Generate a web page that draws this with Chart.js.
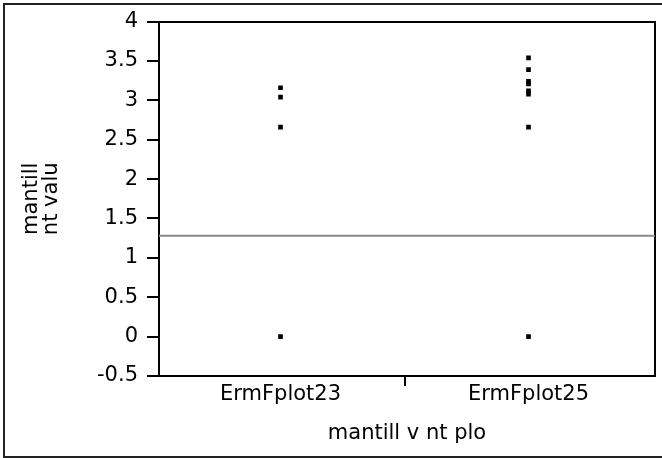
<!DOCTYPE html>
<html>
<head>
<meta charset="utf-8">
<script src="https://cdn.jsdelivr.net/npm/chart.js@4"></script>
<style>
  html, body { margin: 0; padding: 0; background: #fff; overflow: hidden; }
  #frame { position: absolute; left: 3px; top: 3px; width: 664px; height: 455px; border: 2px solid #222; box-sizing: border-box; }
  #wrap { position: absolute; left: 0; top: 0; width: 662px; height: 458px; }
</style>
</head>
<body>
<div id="frame"></div>
<div id="wrap"><canvas id="chart"></canvas></div>
<script>
// data
const categories = ['ErmFplot23', 'ErmFplot25'];
const plot23Values = [0, 2.66, 3.04, 3.16];
const plot25Values = [0, 2.66, 3.08, 3.12, 3.21, 3.24, 3.39, 3.54];
const referenceValue = 1.28;
const yTickValues = [-0.5, 0, 0.5, 1, 1.5, 2, 2.5, 3, 3.5, 4];
const xTitle = 'mantill v nt plo';
const yTitle = ['mantill', 'nt valu'];

const xMin = -0.49;
const xMax = 1.51;
const FONT = 'DejaVu Sans';

const toPoints = (idx, values) => values.map(v => ({ x: idx, y: v }));

const ctx = document.getElementById('chart').getContext('2d');
new Chart(ctx, {
  data: {
    datasets: [
      {
        type: 'line',
        data: [{ x: xMin, y: referenceValue }, { x: xMax, y: referenceValue }],
        borderColor: '#8a8a8a',
        borderWidth: 2,
        pointRadius: 0,
      },
      {
        type: 'scatter',
        data: toPoints(0, plot23Values),
        pointStyle: 'rect',
        pointRadius: 3.3,
        borderWidth: 0,
        backgroundColor: '#000',
      },
      {
        type: 'scatter',
        data: toPoints(1, plot25Values),
        pointStyle: 'rect',
        pointRadius: 3.3,
        borderWidth: 0,
        backgroundColor: '#000',
      },
    ],
  },
  options: {
    responsive: true,
    maintainAspectRatio: false,
    animation: false,
    layout: { padding: { left: 20, right: 7, top: 19, bottom: 4 } },
    plugins: { legend: { display: false }, tooltip: { enabled: false } },
    scales: {
      x: {
        type: 'linear',
        min: xMin,
        max: xMax,
        afterBuildTicks: (scale) => {
          scale.ticks = [{ value: 0 }, { value: 0.5 }, { value: 1 }];
        },
        afterFit: (scale) => { scale.height = 458 - 376 - 4; },
        ticks: {
          autoSkip: false,
          maxRotation: 0,
          padding: -4,
          color: '#000',
          font: { family: FONT, size: 21 },
          callback: (v) => (v === 0 || v === 1 ? categories[v] : ''),
        },
        grid: {
          drawOnChartArea: false,
          tickLength: 10,
          lineWidth: 2,
          color: (c) => (c.tick && c.tick.value === 0.5 ? '#000' : 'rgba(0,0,0,0)'),
        },
        border: { color: '#000', width: 2 },
        title: {
          display: true,
          text: xTitle,
          color: '#000',
          font: { family: FONT, size: 21 },
          padding: { top: 0, bottom: 8 },
        },
      },
      x2: {
        type: 'linear',
        position: 'top',
        min: xMin,
        max: xMax,
        ticks: { display: false },
        grid: { drawOnChartArea: false, drawTicks: false },
        border: { color: '#000', width: 2 },
        afterFit: (scale) => { scale.height = 0; },
      },
      y: {
        type: 'linear',
        min: -0.5,
        max: 4,
        afterBuildTicks: (scale) => {
          scale.ticks = yTickValues.map(v => ({ value: v }));
        },
        afterFit: (scale) => { scale.width = 159 - 20; },
        ticks: {
          padding: 9,
          color: '#000',
          font: { family: FONT, size: 21 },
          callback: (v) => String(v),
        },
        grid: {
          drawOnChartArea: false,
          tickLength: 12,
          lineWidth: 2,
          color: '#000',
        },
        border: { color: '#000', width: 2 },
        title: {
          display: true,
          text: yTitle,
          color: '#000',
          font: { family: FONT, size: 21, lineHeight: 0.95 },
          padding: { top: 2, bottom: 0 },
        },
      },
      y2: {
        type: 'linear',
        position: 'right',
        min: -0.5,
        max: 4,
        ticks: { display: false },
        grid: { drawOnChartArea: false, drawTicks: false },
        border: { color: '#000', width: 2 },
        afterFit: (scale) => { scale.width = 0; },
      },
    },
  },
});
</script>
</body>
</html>
